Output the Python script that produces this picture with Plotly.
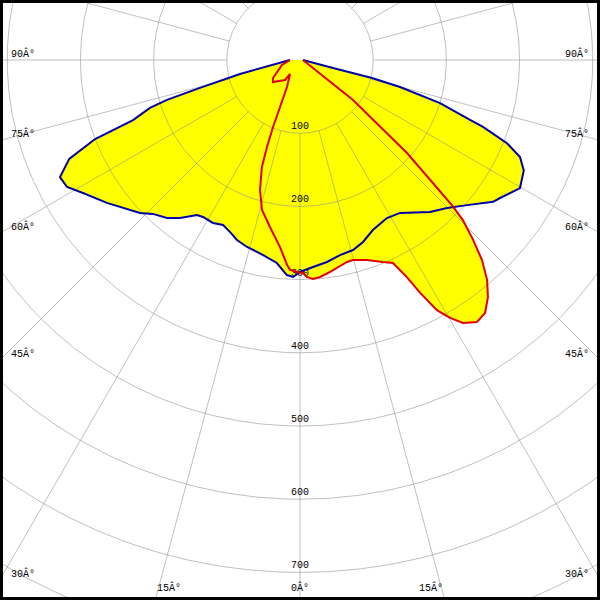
import numpy as np
import plotly.graph_objects as go

# ---- data (gamma angle in degrees, negative = left side; luminous intensity) ----
blue_angles = [-90, -76.9, -74.4, -73.3, -72.3, -70.2, -68.9, -66.8, -64.0, -61.4, -58.5, -53.5,
               -46.3, -43.7, -40.1, -37.2, -33.6, -31.7, -28.1, -25.0, -22.1, -19.3, -15.8, -10.7,
               -6.5, -3.5, -1.8, 0, 3.6, 7.6, 11.6, 15.6, 19.1, 23.2, 28.8, 33.2, 40.5, 44.8, 49.0,
               53.7, 55.4, 59.8, 63.7, 66.2, 68.1, 69.9, 70.6, 72.9, 74.9, 76.0, 76.4, 90]
blue_values = [13.7, 84.2, 141.9, 189.7, 215.2, 242.4, 300.0, 343.0, 364.8, 362.5, 347.7, 328.1,
               302.4, 290.8, 282.1, 271.0, 254.2, 252.1, 252.4, 248.7, 253.7, 260.5, 265.5, 271.2,
               279.1, 294.3, 296.6, 289.6, 283.3, 278.4, 272.0, 269.5, 263.1, 252.7, 246.4, 249.7,
               273.2, 285.0, 302.2, 327.3, 332.0, 347.7, 341.0, 328.5, 304.7, 266.2, 246.3, 200.1,
               141.5, 101.4, 46.4, 4]

red_angles = [-90, -74.5, -56.3, -50.8, -36.9, -35.5, -25.7, -23.0, -21.9, -20.8, -19.6, -17.1,
              -14.2, -10.2, -6.1, -3.6, -2.7, -0.8, 0.8, 1.8, 3.4, 5.3, 8.1, 11.0, 13.1, 14.8,
              18.5, 22.3, 24.6, 26.2, 27.3, 28.7, 30.2, 31.8, 34.0, 36.2, 38.4, 40.4, 42.3, 43.9,
              45.5, 46.3, 49.0, 53.0, 90]
red_values = [13.7, 25.5, 44.3, 47.6, 34.2, 23.5, 40.9, 69.8, 98.7, 127.2, 155.1, 185.8,
              211.4, 231.8, 257.0, 280.6, 287.0, 289.7, 291.0, 296.6, 299.7, 297.7, 292.5, 286.7,
              283.3, 282.7, 288.2, 298.3, 305.0, 330.5, 358.0, 389.5, 407.7, 422.7, 431.9, 428.2,
              413.3, 394.4, 369.4, 341.1, 312.0, 287.0, 193.7, 90.7, 4]

ring_values = [100, 200, 300, 400, 500, 600, 700, 800, 900]
ring_labels = ["100", "200", "300", "400", "500", "600", "700"]
angle_ticks = [90, 75, 60, 45, 30, 15, 0]
angle_labels = ["90Â°", "75Â°", "60Â°", "45Â°", "30Â°", "15Â°", "0Â°"]

# ---- geometry helpers ----
K = 0.732          # pixels per intensity unit
CX, CY = 300, 60   # pole position in pixels
W = H = 600


def to_xy(ang, val):
    a = np.radians(np.asarray(ang, dtype=float))
    v = np.asarray(val, dtype=float)
    return v * np.sin(a), -v * np.cos(a)


def px(xp, yp):
    return (xp - CX) / K, (CY - yp) / K


fig = go.Figure()

YELLOW = "#FFFF00"
for ang, val in ((blue_angles, blue_values), (red_angles, red_values)):
    x, y = to_xy(ang, val)
    fig.add_trace(go.Scatter(x=x, y=y, mode="lines", fill="toself", fillcolor=YELLOW,
                             line=dict(width=0, color=YELLOW), hoverinfo="skip"))

GRID = "rgba(140,140,140,0.55)"
th = np.linspace(0, 360, 721)
for r in ring_values:
    x, y = to_xy(th, np.full_like(th, r))
    fig.add_trace(go.Scatter(x=x, y=y, mode="lines", line=dict(color=GRID, width=1),
                             hoverinfo="skip"))
for a in range(0, 360, 15):
    x, y = to_xy([a, a], [100, 1000])
    fig.add_trace(go.Scatter(x=x, y=y, mode="lines", line=dict(color=GRID, width=1),
                             hoverinfo="skip"))

FONT = dict(family="Liberation Mono, DejaVu Sans Mono, monospace", size=10, color="black")

# radial value labels just above each ring on the vertical axis
lab_y = [-float(v) + 6.5 / K for v in ring_values[:len(ring_labels)]]
fig.add_trace(go.Scatter(x=[0] * len(ring_labels), y=lab_y, mode="text", text=ring_labels,
                         textposition="middle center", textfont=FONT, hoverinfo="skip"))

# outlines
bx, by = to_xy(blue_angles, blue_values)
fig.add_trace(go.Scatter(x=bx, y=by, mode="lines", line=dict(color="#0000A8", width=2),
                         hoverinfo="skip"))
rx, ry = to_xy(red_angles, red_values)
fig.add_trace(go.Scatter(x=rx, y=ry, mode="lines", line=dict(color="#E00000", width=2),
                         hoverinfo="skip"))

# angle labels where each radial line leaves the frame
annotations = []
for a, lab in zip(angle_ticks, angle_labels):
    t = np.radians(a)
    if a == 0:
        sides = [(0, "center")]
    else:
        sides = [(-1, "left"), (1, "right")]
    for s, anchor in sides:
        if a != 0 and CY + CX / np.tan(t) < H:
            yp = CY + CX / np.tan(t) - 6.5
            xp = 9 if s < 0 else W - 9
        else:
            xp = CX + s * (H - CY) * np.tan(t)
            yp = H - 13
        dx, dy = px(xp, yp)
        annotations.append(dict(x=dx, y=dy, xref="x", yref="y", text=lab, showarrow=False,
                                xanchor=anchor, yanchor="middle", font=FONT))

fig.update_layout(
    width=W, height=H, margin=dict(l=0, r=0, t=0, b=0),
    paper_bgcolor="white", plot_bgcolor="white", showlegend=False, hovermode=False,
    xaxis=dict(range=[-CX / K, (W - CX) / K], visible=False, fixedrange=True),
    yaxis=dict(range=[(CY - H) / K, CY / K], visible=False, fixedrange=True),
    annotations=annotations,
    shapes=[dict(type="rect", xref="paper", yref="paper", x0=0, y0=0, x1=1, y1=1,
                 line=dict(color="black", width=6), layer="above")],
)

fig.write_html("out.html", config={"staticPlot": True},
               post_script="document.body.style.margin='0';document.body.style.overflow='hidden';")
